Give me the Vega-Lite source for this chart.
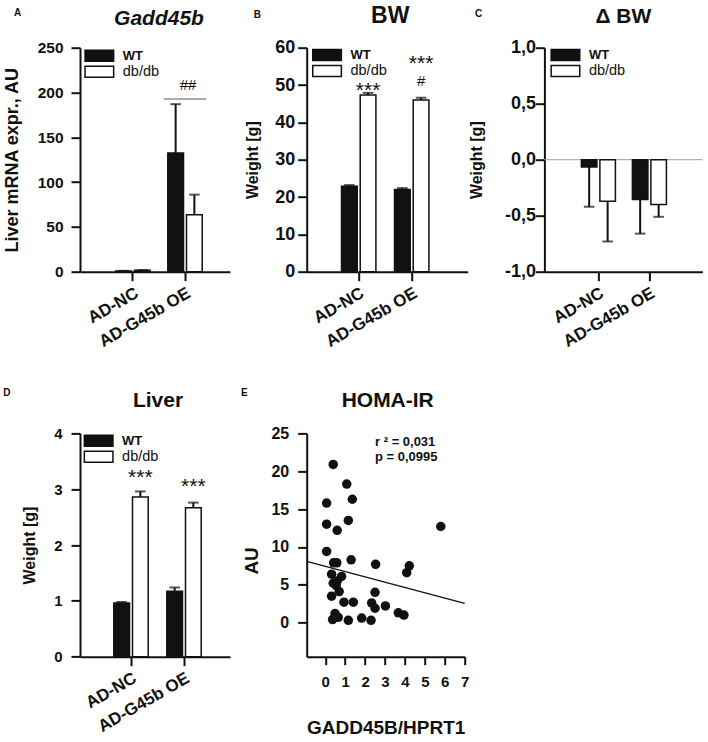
{
 "$schema": "https://vega.github.io/schema/vega-lite/v6.json",
 "padding": {"left": 3, "top": 3.7, "right": 5, "bottom": 5},
 "bounds": "flush",
 "align": "each",
 "columns": 3,
 "spacing": {"row": 161.7, "column": 76.7},
 "resolve": {"scale": {"fill": "independent", "xOffset": "independent", "x": "independent", "y": "independent"}, "legend": {"fill": "independent"}},
 "datasets": {
  "one": [{}],
  "A": [
   {"group": "AD-NC", "genotype": "WT", "mean": 0.8, "err": 1.0},
   {"group": "AD-NC", "genotype": "db/db", "mean": 1.5, "err": 1.8},
   {"group": "AD-G45b OE", "genotype": "WT", "mean": 132.5, "err": 187},
   {"group": "AD-G45b OE", "genotype": "db/db", "mean": 63.5, "err": 86}
  ],
  "A_line": [{"group": "AD-G45b OE", "y": 192.7}],
  "A_hash": [{"group": "AD-G45b OE", "label": "##", "y": 203}],
  "B": [
   {"group": "AD-NC", "genotype": "WT", "mean": 22.9, "err": 23.2},
   {"group": "AD-NC", "genotype": "db/db", "mean": 47.3, "err": 47.9},
   {"group": "AD-G45b OE", "genotype": "WT", "mean": 22.0, "err": 22.4},
   {"group": "AD-G45b OE", "genotype": "db/db", "mean": 46.0, "err": 46.6}
  ],
  "B_star": [
   {"group": "AD-NC", "genotype": "db/db", "label": "***", "y": 46.8},
   {"group": "AD-G45b OE", "genotype": "db/db", "label": "***", "y": 54.1}
  ],
  "B_hash": [{"group": "AD-G45b OE", "genotype": "db/db", "label": "#", "y": 49.7}],
  "C": [
   {"group": "AD-NC", "genotype": "WT", "mean": -0.065, "err": -0.42},
   {"group": "AD-NC", "genotype": "db/db", "mean": -0.37, "err": -0.73},
   {"group": "AD-G45b OE", "genotype": "WT", "mean": -0.355, "err": -0.66},
   {"group": "AD-G45b OE", "genotype": "db/db", "mean": -0.40, "err": -0.51}
  ],
  "D": [
   {"group": "AD-NC", "genotype": "WT", "mean": 0.96, "err": 0.98},
   {"group": "AD-NC", "genotype": "db/db", "mean": 2.86, "err": 2.96},
   {"group": "AD-G45b OE", "genotype": "WT", "mean": 1.17, "err": 1.24},
   {"group": "AD-G45b OE", "genotype": "db/db", "mean": 2.67, "err": 2.76}
  ],
  "D_star": [
   {"group": "AD-NC", "genotype": "db/db", "label": "***", "y": 3.09},
   {"group": "AD-G45b OE", "genotype": "db/db", "label": "***", "y": 2.93}
  ],
  "E": [
   {"x": 0.40, "y": 20.9}, {"x": 1.08, "y": 18.3}, {"x": 0.07, "y": 15.8}, {"x": 1.36, "y": 16.3},
   {"x": 0.07, "y": 13.0}, {"x": 1.16, "y": 13.5}, {"x": 0.60, "y": 12.2}, {"x": 5.80, "y": 12.7},
   {"x": 0.07, "y": 9.4}, {"x": 1.30, "y": 8.3}, {"x": 0.42, "y": 7.9}, {"x": 0.58, "y": 7.9},
   {"x": 2.53, "y": 7.7}, {"x": 4.22, "y": 7.5}, {"x": 4.09, "y": 6.6}, {"x": 0.32, "y": 6.4},
   {"x": 0.82, "y": 6.1}, {"x": 0.40, "y": 5.2}, {"x": 0.60, "y": 5.5}, {"x": 0.70, "y": 4.1},
   {"x": 0.32, "y": 3.5}, {"x": 2.50, "y": 4.0}, {"x": 0.94, "y": 2.7}, {"x": 1.41, "y": 2.7},
   {"x": 2.33, "y": 2.6}, {"x": 2.50, "y": 1.9}, {"x": 3.02, "y": 2.2}, {"x": 0.49, "y": 1.2},
   {"x": 0.37, "y": 0.4}, {"x": 0.65, "y": 0.7}, {"x": 1.16, "y": 0.3}, {"x": 1.83, "y": 0.6},
   {"x": 2.30, "y": 0.3}, {"x": 3.67, "y": 1.3}, {"x": 3.95, "y": 1.0}, {"x": 0.55, "y": 4.9}
  ],
  "E_fit": [{"x": -0.93, "y": 8.08}, {"x": 7, "y": 2.53}],
  "E_stats": [{"x": 2.5, "y": 23.3, "label": "r ² = 0,031"}, {"x": 2.5, "y": 21.4, "label": "p = 0,0995"}]
 },
 "concat": [
  {
   "width": 150, "height": 224,
   "title": {"text": "A", "anchor": "start", "frame": "group", "fontSize": 10, "dx": -66, "offset": -10.1},
   "layer": [
    {
     "data": {"name": "A"},
     "mark": {"type": "bar", "stroke": "#111", "strokeWidth": 1.5},
     "encoding": {
      "x": {"field": "group", "type": "nominal", "title": null, "scale": {"domain": ["AD-NC", "AD-G45b OE"], "paddingInner": 0.338, "paddingOuter": 0.611, "align": 0.563}, "axis": {"labelAngle": -30, "labelAlign": "right", "labelBaseline": "top", "labelFontSize": 17, "labelPadding": 4, "bandPosition": 0.5}},
      "xOffset": {"field": "genotype", "type": "nominal", "scale": {"domain": ["WT", "db/db"], "paddingInner": 0.16, "paddingOuter": 0}},
      "y": {"field": "mean", "type": "quantitative", "title": "Liver mRNA expr., AU", "scale": {"domain": [0, 250], "nice": false}, "axis": {"values": [0, 50, 100, 150, 200, 250], "tickCount": 20, "format": "d", "titleFontSize": 18, "titlePadding": 16, "labelPadding": 8, "labelFontSize": 15.5}},
      "fill": {"field": "genotype", "type": "nominal", "scale": {"domain": ["WT", "db/db"], "range": ["#111111", "#ffffff"]}, "legend": {"title": null, "legendX": 3.3, "legendY": 0.7, "encode": {"labels": {"update": {"fontWeight": {"signal": "datum.value === 'WT' ? 'bold' : 'normal'"}, "fontSize": {"signal": "datum.value === 'WT' ? 13 : 14.5"}}}}}}
     }
    },
    {
     "data": {"name": "A"},
     "mark": {"type": "rule", "strokeWidth": 2, "color": "#111"},
     "encoding": {
      "x": {"field": "group", "type": "nominal", "title": null},
      "xOffset": {"field": "genotype", "type": "nominal"},
      "y": {"field": "mean", "type": "quantitative", "title": "Liver mRNA expr., AU"},
      "y2": {"field": "err"}
     }
    },
    {
     "data": {"name": "A"},
     "mark": {"type": "tick", "orient": "horizontal", "size": 10.6, "thickness": 2, "color": "#111"},
     "encoding": {
      "x": {"field": "group", "type": "nominal", "title": null},
      "xOffset": {"field": "genotype", "type": "nominal"},
      "y": {"field": "err", "type": "quantitative", "title": "Liver mRNA expr., AU"}
     }
    },
    {
     "data": {"name": "A_line"},
     "mark": {"type": "tick", "orient": "horizontal", "size": 42.6, "thickness": 1, "color": "#111"},
     "encoding": {
      "x": {"field": "group", "type": "nominal", "title": null},
      "y": {"field": "y", "type": "quantitative", "title": "Liver mRNA expr., AU"}
     }
    },
    {
     "data": {"name": "A_hash"},
     "mark": {"type": "text", "fontSize": 15, "color": "#000", "baseline": "alphabetic", "dx": 3},
     "encoding": {
      "x": {"field": "group", "type": "nominal", "title": null},
      "y": {"field": "y", "type": "quantitative", "title": "Liver mRNA expr., AU"},
      "text": {"field": "label"}
     }
    },
    {
     "data": {"name": "one"},
     "mark": {"type": "text", "text": "Gadd45b", "fontSize": 21, "fontWeight": "bold", "fontStyle": "italic", "color": "#111", "baseline": "alphabetic", "align": "center", "dx": 4},
     "encoding": {
      "y": {"datum": 275.7, "type": "quantitative", "title": "Liver mRNA expr., AU"}
     }
    }
   ]
  },
  {
   "width": 161, "height": 224,
   "title": {"text": "B", "anchor": "start", "frame": "group", "fontSize": 10, "dx": -53, "offset": -15.1},
   "layer": [
    {
     "data": {"name": "B"},
     "mark": {"type": "bar", "stroke": "#111", "strokeWidth": 1.5},
     "encoding": {
      "x": {"field": "group", "type": "nominal", "title": null, "scale": {"domain": ["AD-NC", "AD-G45b OE"], "paddingInner": 0.351, "paddingOuter": 0.6943, "align": 0.473}, "axis": {"labelAngle": -30, "labelAlign": "right", "labelBaseline": "top", "labelFontSize": 17, "labelPadding": 4, "bandPosition": 0.5}},
      "xOffset": {"field": "genotype", "type": "nominal", "scale": {"domain": ["WT", "db/db"], "paddingInner": 0.16, "paddingOuter": 0}},
      "y": {"field": "mean", "type": "quantitative", "title": "Weight [g]", "scale": {"domain": [0, 60], "nice": false}, "axis": {"values": [0, 10, 20, 30, 40, 50, 60], "tickCount": 20, "format": "d", "titlePadding": 14, "labelPadding": 3, "labelFontSize": 18}},
      "fill": {"field": "genotype", "type": "nominal", "scale": {"domain": ["WT", "db/db"], "range": ["#111111", "#ffffff"]}, "legend": {"title": null, "legendX": 4.3, "legendY": 0, "encode": {"labels": {"update": {"fontWeight": {"signal": "datum.value === 'WT' ? 'bold' : 'normal'"}, "fontSize": {"signal": "datum.value === 'WT' ? 13 : 14.5"}}}}}}
     }
    },
    {
     "data": {"name": "B"},
     "mark": {"type": "rule", "strokeWidth": 2, "color": "#111"},
     "encoding": {
      "x": {"field": "group", "type": "nominal", "title": null},
      "xOffset": {"field": "genotype", "type": "nominal"},
      "y": {"field": "mean", "type": "quantitative", "title": "Weight [g]"},
      "y2": {"field": "err"}
     }
    },
    {
     "data": {"name": "B"},
     "mark": {"type": "tick", "orient": "horizontal", "size": 10.6, "thickness": 2, "color": "#111"},
     "encoding": {
      "x": {"field": "group", "type": "nominal", "title": null},
      "xOffset": {"field": "genotype", "type": "nominal"},
      "y": {"field": "err", "type": "quantitative", "title": "Weight [g]"}
     }
    },
    {
     "data": {"name": "B_star"},
     "mark": {"type": "text", "fontSize": 21, "color": "#111", "baseline": "alphabetic"},
     "encoding": {
      "x": {"field": "group", "type": "nominal", "title": null},
      "xOffset": {"field": "genotype", "type": "nominal"},
      "y": {"field": "y", "type": "quantitative", "title": "Weight [g]"},
      "text": {"field": "label"}
     }
    },
    {
     "data": {"name": "B_hash"},
     "mark": {"type": "text", "fontSize": 15, "color": "#111", "baseline": "alphabetic"},
     "encoding": {
      "x": {"field": "group", "type": "nominal", "title": null},
      "xOffset": {"field": "genotype", "type": "nominal"},
      "y": {"field": "y", "type": "quantitative", "title": "Weight [g]"},
      "text": {"field": "label"}
     }
    },
    {
     "data": {"name": "one"},
     "mark": {"type": "text", "text": "BW", "fontSize": 23, "fontWeight": "bold", "color": "#111", "baseline": "alphabetic", "align": "center", "dx": 3},
     "encoding": {
      "y": {"datum": 66.7, "type": "quantitative", "title": "Weight [g]"}
     }
    }
   ]
  },
  {
   "width": 158, "height": 224,
   "title": {"text": "C", "anchor": "start", "frame": "group", "fontSize": 10, "dx": -69.4, "offset": -13.4},
   "layer": [
    {
     "data": {"name": "one"},
     "mark": {"type": "rule", "strokeWidth": 1.2, "color": "#b0b0b0"},
     "encoding": {
      "y": {"datum": 0, "type": "quantitative", "title": "Weight [g]"}
     }
    },
    {
     "data": {"name": "C"},
     "mark": {"type": "bar", "stroke": "#111", "strokeWidth": 1.5},
     "encoding": {
      "x": {"field": "group", "type": "nominal", "title": null, "scale": {"domain": ["AD-NC", "AD-G45b OE"], "paddingInner": 0.333, "paddingOuter": 0.7157, "align": 0.507}, "axis": {"labelAngle": -30, "labelAlign": "right", "labelBaseline": "top", "labelFontSize": 17, "labelPadding": 4, "bandPosition": 0.5}},
      "xOffset": {"field": "genotype", "type": "nominal", "scale": {"domain": ["WT", "db/db"], "paddingInner": 0.16, "paddingOuter": 0}},
      "y": {"field": "mean", "type": "quantitative", "title": "Weight [g]", "scale": {"domain": [-1, 1], "nice": false}, "axis": {"values": [-1, -0.5, 0, 0.5, 1], "tickCount": 20, "labelExpr": "(datum.value < 0 ? '-' : '') + replace(format(abs(datum.value), '.1f'), '.', ',')", "titlePadding": 20, "labelPadding": 0, "labelFontSize": 18}},
      "fill": {"field": "genotype", "type": "nominal", "scale": {"domain": ["WT", "db/db"], "range": ["#111111", "#ffffff"]}, "legend": {"title": null, "legendX": 5, "legendY": 0, "encode": {"labels": {"update": {"fontWeight": {"signal": "datum.value === 'WT' ? 'bold' : 'normal'"}, "fontSize": {"signal": "datum.value === 'WT' ? 13 : 14.5"}}}}}}
     }
    },
    {
     "data": {"name": "C"},
     "mark": {"type": "rule", "strokeWidth": 2, "color": "#111"},
     "encoding": {
      "x": {"field": "group", "type": "nominal", "title": null},
      "xOffset": {"field": "genotype", "type": "nominal"},
      "y": {"field": "mean", "type": "quantitative", "title": "Weight [g]"},
      "y2": {"field": "err"}
     }
    },
    {
     "data": {"name": "C"},
     "mark": {"type": "tick", "orient": "horizontal", "size": 10.6, "thickness": 2, "color": "#111"},
     "encoding": {
      "x": {"field": "group", "type": "nominal", "title": null},
      "xOffset": {"field": "genotype", "type": "nominal"},
      "y": {"field": "err", "type": "quantitative", "title": "Weight [g]"}
     }
    },
    {
     "data": {"name": "one"},
     "mark": {"type": "text", "text": "Δ BW", "fontSize": 21, "fontWeight": "bold", "color": "#111", "baseline": "alphabetic", "align": "center"},
     "encoding": {
      "y": {"datum": 1.223, "type": "quantitative", "title": "Weight [g]"}
     }
    }
   ]
  },
  {
   "width": 150, "height": 223.3,
   "title": {"text": "D", "anchor": "start", "frame": "group", "fontSize": 10, "dx": -76.7, "offset": -8.1},
   "layer": [
    {
     "data": {"name": "D"},
     "mark": {"type": "bar", "stroke": "#111", "strokeWidth": 1.5},
     "encoding": {
      "x": {"field": "group", "type": "nominal", "title": null, "scale": {"domain": ["AD-NC", "AD-G45b OE"], "paddingInner": 0.351, "paddingOuter": 0.5906, "align": 0.54}, "axis": {"labelAngle": -30, "labelAlign": "right", "labelBaseline": "top", "labelFontSize": 17, "labelPadding": 4, "bandPosition": 0.5}},
      "xOffset": {"field": "genotype", "type": "nominal", "scale": {"domain": ["WT", "db/db"], "paddingInner": 0.16, "paddingOuter": 0}},
      "y": {"field": "mean", "type": "quantitative", "title": "Weight [g]", "scale": {"domain": [0, 4], "nice": false}, "axis": {"values": [0, 1, 2, 3, 4], "tickCount": 20, "format": "d", "titlePadding": 16, "labelPadding": 9, "labelFontSize": 15}},
      "fill": {"field": "genotype", "type": "nominal", "scale": {"domain": ["WT", "db/db"], "range": ["#111111", "#ffffff"]}, "legend": {"title": null, "legendX": 2.6, "legendY": 0, "encode": {"labels": {"update": {"fontWeight": {"signal": "datum.value === 'WT' ? 'bold' : 'normal'"}, "fontSize": {"signal": "datum.value === 'WT' ? 13 : 14.5"}}}}}}
     }
    },
    {
     "data": {"name": "D"},
     "mark": {"type": "rule", "strokeWidth": 2, "color": "#111"},
     "encoding": {
      "x": {"field": "group", "type": "nominal", "title": null},
      "xOffset": {"field": "genotype", "type": "nominal"},
      "y": {"field": "mean", "type": "quantitative", "title": "Weight [g]"},
      "y2": {"field": "err"}
     }
    },
    {
     "data": {"name": "D"},
     "mark": {"type": "tick", "orient": "horizontal", "size": 10.6, "thickness": 2, "color": "#111"},
     "encoding": {
      "x": {"field": "group", "type": "nominal", "title": null},
      "xOffset": {"field": "genotype", "type": "nominal"},
      "y": {"field": "err", "type": "quantitative", "title": "Weight [g]"}
     }
    },
    {
     "data": {"name": "D_star"},
     "mark": {"type": "text", "fontSize": 21, "color": "#111", "baseline": "alphabetic"},
     "encoding": {
      "x": {"field": "group", "type": "nominal", "title": null},
      "xOffset": {"field": "genotype", "type": "nominal"},
      "y": {"field": "y", "type": "quantitative", "title": "Weight [g]"},
      "text": {"field": "label"}
     }
    },
    {
     "data": {"name": "one"},
     "mark": {"type": "text", "text": "Liver", "fontSize": 21, "fontWeight": "bold", "color": "#111", "baseline": "alphabetic", "align": "center", "dx": 3},
     "encoding": {
      "y": {"datum": 4.478, "type": "quantitative", "title": "Weight [g]"}
     }
    }
   ]
  },
  {
   "width": 158, "height": 223.3,
   "title": {"text": "E", "anchor": "start", "frame": "group", "fontSize": 10, "dx": -65.7, "offset": -8.1},
   "layer": [
    {
     "data": {"name": "E"},
     "mark": {"type": "circle", "size": 90, "color": "#111", "opacity": 1},
     "encoding": {
      "x": {"field": "x", "type": "quantitative", "title": "GADD45B/HPRT1", "scale": {"domain": [-0.93, 7], "nice": false}, "axis": {"values": [0, 1, 2, 3, 4, 5, 6, 7], "tickCount": 20, "format": "d", "titleFontSize": 19, "titlePadding": 29, "labelPadding": 10, "labelFontSize": 15, "labelFlush": false, "tickSize": 8}},
      "y": {"field": "y", "type": "quantitative", "title": "AU", "scale": {"domain": [-4.5, 25], "nice": false}, "axis": {"values": [0, 5, 10, 15, 20, 25], "tickCount": 20, "format": "d", "titleFontSize": 19, "titlePadding": 9, "labelPadding": 9, "labelFontSize": 16, "titleY": 127}}
     }
    },
    {
     "data": {"name": "E_fit"},
     "mark": {"type": "line", "color": "#111", "strokeWidth": 1.3},
     "encoding": {
      "x": {"field": "x", "type": "quantitative", "title": "GADD45B/HPRT1"},
      "y": {"field": "y", "type": "quantitative", "title": "AU"}
     }
    },
    {
     "data": {"name": "E_stats"},
     "mark": {"type": "text", "fontSize": 13, "fontWeight": "bold", "color": "#111", "align": "left", "baseline": "alphabetic"},
     "encoding": {
      "x": {"field": "x", "type": "quantitative", "title": "GADD45B/HPRT1"},
      "y": {"field": "y", "type": "quantitative", "title": "AU"},
      "text": {"field": "label"}
     }
    },
    {
     "data": {"name": "one"},
     "mark": {"type": "text", "text": "HOMA-IR", "fontSize": 21, "fontWeight": "bold", "color": "#111", "baseline": "alphabetic", "align": "center", "dx": 2},
     "encoding": {
      "y": {"datum": 28.53, "type": "quantitative", "title": "AU"}
     }
    }
   ]
  }
 ],
 "config": {
  "font": "Liberation Sans",
  "view": {"stroke": null},
  "axis": {"domainColor": "#111", "domainWidth": 2, "tickColor": "#111", "tickWidth": 2, "tickSize": 9, "labelColor": "#111", "labelFontWeight": "bold", "labelFontSize": 15, "labelPadding": 4, "titleColor": "#111", "titleFontWeight": "bold", "titleFontSize": 16, "grid": false, "labelFont": "Liberation Sans", "titleFont": "Liberation Sans", "labelFlush": false, "labelOverlap": false},
  "legend": {"orient": "none", "padding": 0, "symbolType": "M-1,-1H4.2V1H-1Z", "symbolSize": 121, "symbolStrokeColor": "#111", "symbolStrokeWidth": 1.5, "labelFontSize": 13, "labelOffset": 25, "rowPadding": -3, "labelColor": "#111", "labelFont": "Liberation Sans"},
  "title": {"fontSize": 21, "fontWeight": "bold", "color": "#111", "font": "Liberation Sans", "anchor": "middle"},
  "text": {"font": "Liberation Sans"}
 }
}
